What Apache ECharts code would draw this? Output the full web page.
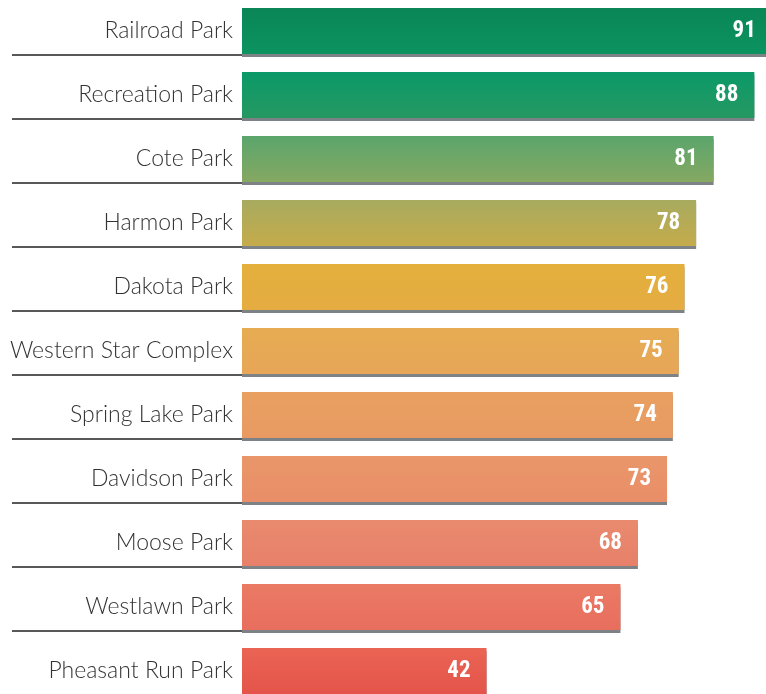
<!DOCTYPE html>
<html>
<head>
<meta charset="utf-8">
<style>
  html, body { margin: 0; padding: 0; background: #ffffff; overflow: hidden; }
  #chart { width: 766px; height: 705px; margin-top: -1px; }
</style>
<script src="https://cdn.jsdelivr.net/npm/echarts@6/dist/echarts.min.js"></script>
</head>
<body>
<div id="chart"></div>
<script>
  // park names, top to bottom
  var parks = [
    'Railroad Park', 'Recreation Park', 'Cote Park', 'Harmon Park', 'Dakota Park',
    'Western Star Complex', 'Spring Lake Park', 'Davidson Park', 'Moose Park',
    'Westlawn Park', 'Pheasant Run Park'
  ]
  var scores = [91, 88, 81, 78, 76, 75, 74, 73, 68, 65, 42]

  // bar fill, top and bottom of each bar
  var topColors = ['#0a8656', '#0a9a68', '#5aa56c', '#a7ab5f', '#e4b03c', '#e6ac52',
    '#e8a060', '#e9966a', '#e98a6e', '#ea7a64', '#ea6454']
  var bottomColors = ['#0c9360', '#269862', '#86a862', '#c5ab4b', '#e5ac42', '#e7a658',
    '#e89a62', '#e98e68', '#e7806a', '#e86e5e', '#e4544a']

  var chart = echarts.init(document.getElementById('chart'))

  var option = {
    backgroundColor: '#ffffff',
    animation: false,
    grid: [
      { left: 242, right: 0, top: 0, height: 704 },   // bars + names
      { left: 242, right: 0, top: 56, height: 640 }   // underlines
    ],
    xAxis: [
      { gridIndex: 0, type: 'value', min: 0, max: 90, show: false },
      { gridIndex: 1, type: 'value', min: 0, max: 90, show: false }
    ],
    yAxis: [
      {
        gridIndex: 0,
        type: 'category',
        inverse: true,
        data: parks,
        axisLine: { show: false },
        axisTick: { show: false },
        axisLabel: {
          margin: 9,
          padding: [5, 0, 0, 0],
          fontFamily: 'Lato',
          fontWeight: 300,
          fontSize: 23,
          color: '#333333'
        }
      },
      {
        gridIndex: 1,
        type: 'category',
        inverse: true,
        boundaryGap: false,
        data: parks,
        axisLine: { show: false },
        axisLabel: { show: false },
        axisTick: {
          show: true,
          length: 230,
          lineStyle: { color: '#222222', width: 1.5 }
        }
      }
    ],
    series: [
      {
        type: 'bar',
        xAxisIndex: 0,
        yAxisIndex: 0,
        barWidth: 46,
        clip: false,
        data: scores.map(function (v, i) {
          return {
            value: v,
            itemStyle: {
              color: new echarts.graphic.LinearGradient(0, 0, 0, 1, [
                { offset: 0, color: topColors[i] },
                { offset: 1, color: bottomColors[i] }
              ])
            }
          }
        }),
        itemStyle: {
          shadowColor: '#7d8286',
          shadowBlur: 0,
          shadowOffsetY: 3
        },
        label: {
          show: true,
          position: 'insideRight',
          distance: 16,
          padding: [5, 0, 0, 0],
          color: '#ffffff',
          fontFamily: '"Liberation Sans Narrow", "Roboto Condensed", "Noto Sans Condensed", "DejaVu Sans Condensed", sans-serif',
          fontWeight: 'bold',
          fontSize: 23
        }
      }
    ]
  }

  chart.setOption(option)
</script>
</body>
</html>
